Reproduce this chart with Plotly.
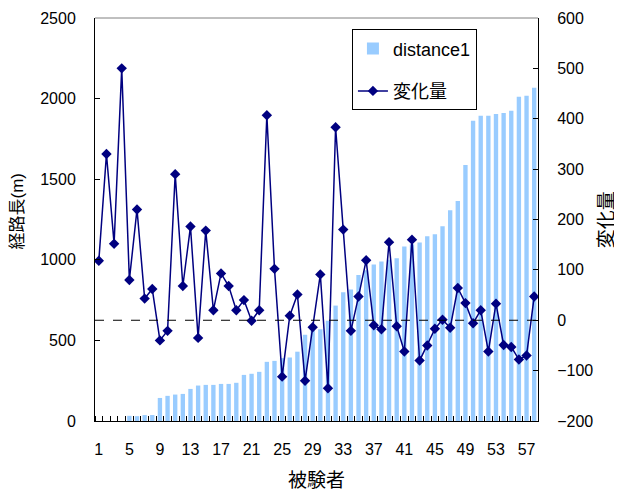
import plotly.graph_objects as go

subjects = list(range(1, 59))
distance1 = [0, 0, 0, 0, 32, 30, 37, 37, 143, 156, 164, 168, 199, 220, 224, 224, 230, 230, 237, 286,
             293, 305, 367, 373, 390, 394, 430, 535, 560, 569, 622, 716, 799, 815, 905, 935, 971, 990, 1000, 1009,
             1083, 1097, 1108, 1146, 1158, 1208, 1308, 1364, 1588, 1862, 1893, 1893, 1905, 1911, 1924, 2011, 2017, 2067]
henkaryo = [118, 330, 152, 500, 80, 220, 43, 62, -40, -21, 290, 68, 186, -35, 178, 20, 93, 68, 20, 40,
            -1, 20, 407, 102, -112, 9, 51, -120, -14, 91, -135, 383, 180, -21, 47, 119, -10, -18, 155, -12,
            -62, 160, -80, -50, -17, 1, -15, 64, 34, -6, 20, -62, 33, -49, -53, -78, -70, 47]
xtick_vals = list(range(1, 59, 4))
xtick_text = [str(v) for v in xtick_vals]

FONT = "Liberation Sans, Noto Sans CJK JP, sans-serif"

fig = go.Figure()
fig.add_trace(go.Bar(x=subjects, y=distance1, name="distance1", marker_color="#99CCFF",
                     marker_line_width=0, width=0.57, legendgroup="a"))
fig.add_trace(go.Scatter(x=subjects, y=henkaryo, name="変化量", yaxis="y2", mode="lines+markers",
                         line=dict(color="#000080", width=1.5),
                         marker=dict(symbol="diamond", size=8, color="#000080"), legendgroup="b"))

# The page body has an 8px margin, so the figure is sized to fill the rest of the window.
fig.update_layout(
    width=614, height=483,
    margin=dict(l=87, r=84, t=10, b=70, autoexpand=False),
    paper_bgcolor="white", plot_bgcolor="white",
    font=dict(family=FONT, size=16, color="black"),
    showlegend=True,
    legend=dict(x=0.58, y=0.972, xanchor="left", yanchor="top", bordercolor="black", borderwidth=1,
                bgcolor="white", font=dict(size=18), tracegroupgap=16, traceorder="grouped"),
    xaxis=dict(range=[0.5, 58.5], tickmode="array", tickvals=xtick_vals, ticktext=xtick_text,
               ticks="", showline=True, linecolor="black", linewidth=1, showgrid=False, zeroline=False,
               ticklabelstandoff=14, tickfont=dict(size=16), automargin=False,
               minor=dict(tickmode="linear", tick0=0.5, dtick=1, ticks="inside", ticklen=5,
                          tickcolor="black", showgrid=False)),
    yaxis=dict(range=[0, 2500], dtick=500, ticks="inside", ticklen=5, tickcolor="black",
               showline=True, linecolor="black", linewidth=1, showgrid=False, zeroline=False,
               ticklabelstandoff=15, tickfont=dict(size=16), automargin=False),
    yaxis2=dict(range=[-200, 600], dtick=100, ticks="inside", ticklen=5, tickcolor="black",
                overlaying="y", side="right", showline=True, linecolor="black", linewidth=1,
                showgrid=False, zeroline=False, ticklabelstandoff=15, tickfont=dict(size=16),
                automargin=False),
    shapes=[
        dict(type="line", xref="paper", yref="y2", x0=0, x1=1, y0=0, y1=0,
             line=dict(color="black", width=1, dash="dash"), layer="above"),
        dict(type="line", xref="paper", yref="paper", x0=0, x1=1, y0=1, y1=1,
             line=dict(color="#808080", width=1)),
    ],
    annotations=[
        dict(text="経路長(m)", xref="paper", yref="paper", x=-0.176, y=0.52, textangle=-90,
             showarrow=False, font=dict(size=17), xanchor="center", yanchor="middle"),
        dict(text="変化量", xref="paper", yref="paper", x=1.155, y=0.500, textangle=-90,
             showarrow=False, font=dict(size=19), xanchor="center", yanchor="middle"),
        dict(text="被験者", xref="paper", yref="paper", x=0.5, y=-0.147,
             showarrow=False, font=dict(size=19), xanchor="center", yanchor="middle"),
    ],
)

fig.write_html("out.html")
